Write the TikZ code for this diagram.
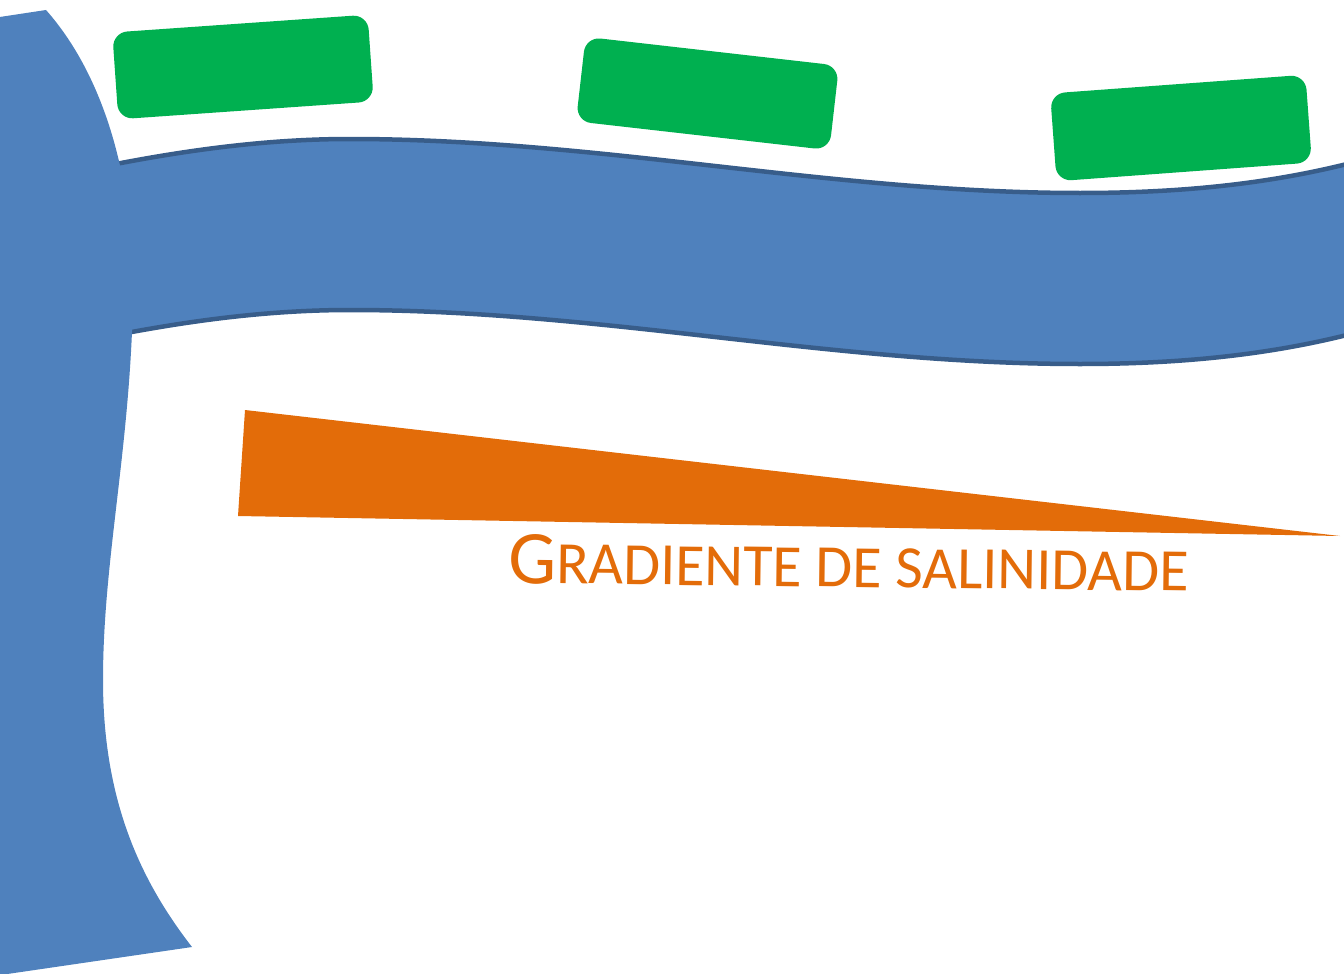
\documentclass[tikz,border=0pt]{standalone}
\usepackage{fontspec}
\newfontfamily\calib{Carlito}
\definecolor{seablue}{HTML}{4F81BD}
\definecolor{edgeblue}{HTML}{385D8A}
\definecolor{mangrove}{HTML}{00B050}
\definecolor{saltorange}{HTML}{E36C09}
\tikzset{
  greenbox/.style={fill=mangrove, rounded corners=15pt, inner sep=0pt},
  riveredge/.style={draw=edgeblue, line width=4.5pt},
}
\begin{document}
\begin{tikzpicture}[x=1pt,y=-1pt]
\useasboundingbox (0,0) rectangle (1344,974);
\clip (0,0) rectangle (1344,974);
% river band
\fill[seablue] (40,180) .. controls (150,155) and (250,139) .. (350,139)
  .. controls (600,139) and (830,193) .. (1080,193)
  .. controls (1200,193) and (1290,180) .. (1370,158)
  -- (1370,329) .. controls (1290,351) and (1200,364) .. (1080,364)
  .. controls (830,364) and (600,310) .. (350,310)
  .. controls (250,310) and (150,326) .. (40,351) -- cycle;
\draw[riveredge] (40,180) .. controls (150,155) and (250,139) .. (350,139)
  .. controls (600,139) and (830,193) .. (1080,193)
  .. controls (1200,193) and (1290,180) .. (1370,158);
\draw[riveredge] (40,351) .. controls (150,326) and (250,310) .. (350,310)
  .. controls (600,310) and (830,364) .. (1080,364)
  .. controls (1200,364) and (1290,351) .. (1370,329);
% sea / main channel
\fill[seablue] (-20,20) -- (46,10)
  .. controls (108,80) and (135,190) .. (133,300)
  .. controls (130,450) and (103,560) .. (103,680)
  .. controls (103,800) and (140,880) .. (192,947)
  -- (-20,978) -- cycle;
% mangrove boxes
\node[greenbox, rotate=4, minimum width=256pt, minimum height=87pt] (m1) at (243,67) {};
\node[greenbox, rotate=-6.5, minimum width=255pt, minimum height=85pt] (m2) at (707.5,93.5) {};
\node[greenbox, rotate=4.2, minimum width=256pt, minimum height=88pt] (m3) at (1181,128) {};
% salinity gradient
\fill[saltorange] (245,410) -- (238,516) -- (1340,536) -- cycle;
\node[anchor=base west, inner sep=0pt, rotate=-0.7, text=saltorange] (lbl) at (508,583)
  {\calib{\fontsize{76}{80}\selectfont G}{\fontsize{60}{64}\selectfont RADIENTE DE SALINIDADE}};
\end{tikzpicture}
\end{document}
